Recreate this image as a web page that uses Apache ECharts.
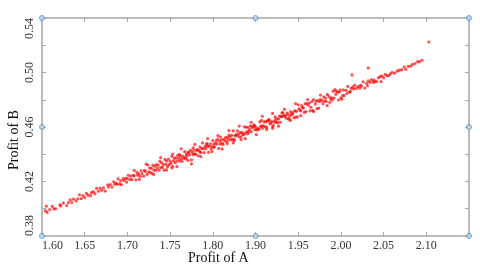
<!DOCTYPE html>
<html>
<head>
<meta charset="utf-8">
<script src="https://cdn.jsdelivr.net/npm/echarts@6/dist/echarts.min.js"></script>
<style>html,body{margin:0;padding:0;background:#fff;}#c{width:480px;height:270px;}</style>
</head>
<body>
<div id="c"></div>
<script>
const xTickLabels = ['1.60','1.65','1.70','1.75','1.80','1.90','1.95','2.00','2.05','2.10',''];
const yTickLabels = ['0.38','','0.42','','0.46','','0.50','','0.54'];
const xName = 'Profit of A';
const yName = 'Profit of B';
// [Profit of A, Profit of B]
const samples = [
[1.604,.3986],[1.606,.3973],[1.605,.4020],[1.609,.3994],[1.612,.4017],[1.614,.3999],[1.616,.4000],[1.621,.4029],[1.622,.4021],[1.625,.4042],[1.629,.4023],[1.631,.4045],[1.633,.4065],[1.635,.4046],[1.637,.4070],[1.640,.4057],[1.642,.4073],
[1.644,.4102],[1.646,.4075],[1.648,.4097],[1.650,.4082],[1.652,.4113],[1.654,.4100],[1.657,.4096],[1.658,.4118],[1.660,.4125],[1.662,.4111],[1.664,.4149],[1.666,.4128],[1.668,.4151],[1.670,.4135],[1.672,.4153],[1.674,.4130],[1.677,.4175],[1.678,.4159],[1.680,.4178],[1.682,.4159],
[1.684,.4198],[1.685,.4180],[1.687,.4188],[1.688,.4179],[1.689,.4220],[1.691,.4182],[1.692,.4205],[1.693,.4176],[1.695,.4221],[1.696,.4208],[1.698,.4223],[1.699,.4196],[1.700,.4222],[1.701,.4245],[1.703,.4214],[1.704,.4240],[1.705,.4214],[1.707,.4246],[1.708,.4241],[1.710,.4212],[1.711,.4267],[1.712,.4246],[1.713,.4257],[1.715,.4238],[1.716,.4279],[1.717,.4258],[1.719,.4239],[1.720,.4281],[1.721,.4274],[1.723,.4253],
[1.724,.4321],[1.725,.4270],[1.726,.4299],[1.727,.4266],[1.728,.4297],[1.729,.4258],[1.730,.4320],[1.731,.4285],[1.732,.4312],[1.733,.4281],[1.734,.4324],[1.735,.4299],[1.736,.4320],[1.737,.4283],[1.738,.4348],[1.739,.4302],[1.740,.4337],[1.741,.4303],[1.742,.4324],[1.743,.4283],[1.744,.4362],[1.745,.4326],[1.746,.4350],[1.747,.4309],
[1.748,.4365],[1.749,.4324],[1.750,.4349],[1.751,.4334],[1.752,.4385],[1.753,.4312],[1.754,.4351],[1.755,.4371],[1.756,.4338],[1.757,.4373],[1.758,.4352],[1.759,.4393],[1.760,.4372],[1.761,.4351],[1.762,.4387],[1.763,.4367],[1.761,.4397],[1.764,.4347],[1.765,.4386],[1.766,.4369],[1.767,.4419],[1.768,.4375],[1.769,.4400],[1.770,.4389],[1.771,.4413],[1.769,.4365],[1.772,.4415],[1.773,.4395],[1.774,.4429],[1.775,.4358],[1.776,.4414],[1.777,.4397],[1.778,.4430],[1.779,.4403],[1.777,.4447],[1.780,.4400],[1.781,.4428],[1.782,.4434],[1.783,.4389],[1.784,.4428],[1.785,.4454],[1.786,.4412],[1.787,.4442],[1.785,.4418],[1.788,.4483],[1.789,.4443],[1.790,.4412],[1.791,.4458],[1.792,.4441],[1.793,.4478],[1.794,.4457],[1.795,.4414],[1.793,.4472],[1.796,.4460],[1.797,.4476],[1.798,.4438],[1.799,.4456],
[1.800,.4501],[1.801,.4475],[1.802,.4455],[1.803,.4480],[1.801,.4449],[1.804,.4500],[1.805,.4476],[1.806,.4512],[1.807,.4443],[1.808,.4494],[1.809,.4473],[1.810,.4507],[1.811,.4482],[1.809,.4528],[1.812,.4473],[1.813,.4510],[1.814,.4499],[1.815,.4524],[1.816,.4491],[1.817,.4522],[1.818,.4505],[1.819,.4540],[1.817,.4478],[1.820,.4527],[1.821,.4506],[1.822,.4539],[1.823,.4510],[1.824,.4571],[1.825,.4507],[1.826,.4535],[1.827,.4544],[1.825,.4501],[1.828,.4537],[1.829,.4571],[1.830,.4547],[1.831,.4528],[1.832,.4558],[1.833,.4508],[1.834,.4560],[1.835,.4547],[1.833,.4528],[1.836,.4544],[1.837,.4601],[1.838,.4555],[1.839,.4598],[1.840,.4566],[1.842,.4566],[1.841,.4598],[1.843,.4582],[1.841,.4550],[1.844,.4609],[1.845,.4565],[1.846,.4597],[1.847,.4601],[1.848,.4615],[1.849,.4580],[1.850,.4602],[1.851,.4582],[1.849,.4610],
[1.852,.4578],[1.853,.4591],[1.854,.4582],[1.855,.4637],[1.856,.4605],[1.857,.4649],[1.858,.4591],[1.859,.4611],[1.857,.4607],[1.860,.4639],[1.861,.4601],[1.862,.4637],[1.863,.4599],[1.864,.4646],[1.865,.4648],[1.866,.4654],[1.867,.4623],[1.865,.4645],[1.868,.4629],[1.869,.4642],[1.870,.4602],[1.871,.4611],[1.872,.4636],[1.873,.4674],[1.874,.4633],[1.875,.4660],[1.873,.4650],[1.876,.4632],[1.877,.4658],[1.878,.4680],[1.879,.4635],[1.880,.4676],[1.881,.4703],[1.882,.4705],[1.883,.4684],[1.881,.4677],[1.884,.4679],[1.885,.4684],[1.886,.4665],[1.887,.4702],[1.888,.4693],[1.889,.4659],[1.890,.4677],[1.891,.4713],[1.889,.4657],[1.892,.4692],[1.893,.4694],[1.894,.4705],[1.895,.4668],[1.896,.4720],[1.897,.4673],[1.898,.4715],[1.899,.4674],[1.900,.4763],[1.901,.4734],[1.902,.4724],[1.903,.4719],
[1.904,.4757],[1.905,.4743],[1.906,.4739],[1.907,.4707],[1.908,.4770],[1.909,.4713],[1.910,.4772],[1.912,.4760],[1.913,.4778],[1.914,.4719],[1.915,.4745],[1.916,.4787],[1.917,.4722],[1.918,.4801],[1.920,.4769],[1.921,.4790],[1.922,.4734],[1.923,.4794],[1.924,.4738],[1.925,.4786],[1.926,.4801],[1.928,.4795],[1.929,.4771],[1.930,.4822],[1.931,.4790],[1.932,.4812],[1.933,.4787],[1.934,.4839],[1.936,.4823],[1.937,.4781],[1.938,.4805],[1.939,.4814],[1.940,.4798],[1.941,.4863],[1.942,.4813],[1.944,.4840],[1.945,.4863],[1.946,.4855],[1.947,.4798],[1.948,.4857],[1.949,.4871],[1.950,.4812],[1.952,.4830],[1.953,.4873],[1.954,.4831],[1.956,.4869],[1.957,.4846],[1.958,.4898],[1.960,.4855],[1.961,.4861],[1.962,.4884],
[1.964,.4892],[1.965,.4878],[1.966,.4907],[1.968,.4883],[1.970,.4898],[1.972,.4885],[1.973,.4906],[1.974,.4899],[1.976,.4932],[1.978,.4886],[1.980,.4921],[1.981,.4903],[1.982,.4939],[1.984,.4927],[1.986,.4947],[1.988,.4927],[1.989,.4944],[1.990,.4932],[1.992,.4934],[1.994,.4961],[1.996,.4970],[1.997,.4933],[1.998,.4973],[2.000,.4961],[2.002,.4986],
[2.004,.4976],[2.006,.4978],[2.008,.4990],[2.010,.5002],[2.013,.4995],[2.016,.5010],[2.018,.5017],[2.021,.5019],[2.024,.5040],[2.026,.5024],[2.029,.5045],[2.032,.5047],[2.034,.5060],[2.037,.5066],[2.040,.5080],[2.042,.5078],[2.045,.5090],
[1.963,.4982],[1.982,.5033],[2.053,.5224],[1.775,.4330],[1.752,.4300],[1.870,.4590],
[1.722,.4327],[1.731,.4252],[1.739,.4375],[1.746,.4285],[1.753,.4402],[1.758,.4309],[1.763,.4440],[1.771,.4354],[1.779,.4472],[1.786,.4382],[1.794,.4515],[1.799,.4420],[1.806,.4536],[1.811,.4439],[1.819,.4574],[1.824,.4483],[1.831,.4607],[1.838,.4514],[1.845,.4635],[1.851,.4544],[1.858,.4679],[1.863,.4582],[1.870,.4700],[1.877,.4606],[1.884,.4731],[1.891,.4648],[1.897,.4771],[1.903,.4683],[1.911,.4801],[1.918,.4713],[1.926,.4834],[1.934,.4757],[1.943,.4875],[1.951,.4804],[1.708,.4282],[1.714,.4215]
];
const xMin = 1.60, xMax = 2.10, xStep = 0.05;
const yMin = 0.38, yMax = 0.54, yStep = 0.02;

const serif = "'Liberation Serif','Times New Roman',serif";
const axisLineStyle = { color: '#a6a6a6', width: 1.5 };
const tickStyle = { show: true, inside: true, length: 4, lineStyle: { color: '#a6a6a6', width: 1 } };
const xMid = (xMin + xMax) / 2, yMid = (yMin + yMax) / 2;
const handles = [[xMin,yMin],[xMid,yMin],[xMax,yMin],[xMin,yMid],[xMax,yMid],[xMin,yMax],[xMid,yMax],[xMax,yMax]];

const chart = echarts.init(document.getElementById('c'), null, { renderer: 'canvas' });
chart.setOption({
  animation: false,
  backgroundColor: '#ffffff',
  grid: { left: 42, right: 11, top: 18, bottom: 34, containLabel: false },
  xAxis: [{
    type: 'value', min: xMin, max: xMax, interval: xStep, position: 'bottom',
    axisLine: { show: true, lineStyle: axisLineStyle },
    axisTick: tickStyle, splitLine: { show: false },
    axisLabel: {
      show: true, margin: 4, fontFamily: serif, fontSize: 12, color: '#333',
      alignMinLabel: 'left',
      formatter: v => xTickLabels[Math.round((v - xMin) / xStep)] || ''
    }
  }, {
    type: 'value', min: xMin, max: xMax, interval: xStep, position: 'top',
    axisLine: { show: true, lineStyle: axisLineStyle },
    axisTick: tickStyle, splitLine: { show: false }, axisLabel: { show: false }
  }],
  yAxis: [{
    type: 'value', min: yMin, max: yMax, interval: yStep, position: 'left',
    axisLine: { show: true, lineStyle: axisLineStyle },
    axisTick: tickStyle, splitLine: { show: false },
    axisLabel: {
      show: true, rotate: 90, margin: 6, fontFamily: serif, fontSize: 12, color: '#333',
      alignMinLabel: 'left', alignMaxLabel: 'right',
      formatter: v => yTickLabels[Math.round((v - yMin) / yStep)] || ''
    }
  }, {
    type: 'value', min: yMin, max: yMax, interval: yStep, position: 'right',
    axisLine: { show: true, lineStyle: axisLineStyle },
    axisTick: tickStyle, splitLine: { show: false }, axisLabel: { show: false }
  }],
  graphic: [
    { type: 'text', left: 188, top: 251, style: { text: xName, font: "14px " + serif, fill: '#111' } },
    { type: 'text', x: 14, y: 140, rotation: Math.PI / 2, style: { text: yName, font: "14px " + serif, fill: '#111', align: 'center', verticalAlign: 'middle' } }
  ],
  series: [{
    type: 'scatter', xAxisIndex: 0, yAxisIndex: 0,
    data: samples, symbol: 'circle', symbolSize: 3.2,
    itemStyle: { color: 'rgba(255,0,0,0.85)' }
  }, {
    type: 'scatter', xAxisIndex: 0, yAxisIndex: 0, clip: false, z: 10,
    data: handles, symbol: 'circle', symbolSize: 5,
    itemStyle: { color: '#bcd6ee', borderColor: '#5b8ec6', borderWidth: 1 }
  }]
});
</script>
</body>
</html>
